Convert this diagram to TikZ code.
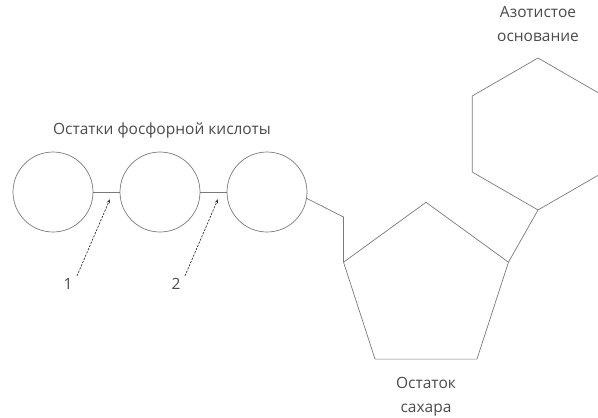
\documentclass[tikz,border=0pt]{standalone}
\usepackage{fontspec}
\setmainfont{Open Sans}
\usetikzlibrary{shapes.geometric,arrows.meta,positioning}

\definecolor{linegray}{HTML}{7A7A7A}
\definecolor{textgray}{HTML}{4A4A4A}

\begin{document}
\begin{tikzpicture}[x=1pt,y=-1pt,
    every node/.style={text=textgray,font=\fontsize{15.5}{24}\selectfont},
    bond/.style={draw=linegray,line width=0.7pt},
    phosphate/.style={circle,draw=linegray,line width=0.7pt,minimum size=80pt,inner sep=0pt,outer sep=0pt},
    ring/.style={regular polygon,draw=linegray,line width=0.7pt,inner sep=0pt,outer sep=0pt},
    pointer/.style={draw=black!80,line width=0.7pt,dash pattern=on 2.2pt off 1.3pt,-{Stealth[length=4.5pt,width=3.5pt]}}]
  \useasboundingbox (0,0) rectangle (598,418);
  \clip (0,0) rectangle (598,418);

  % phosphoric acid residues
  \node[phosphate] (p1) at (53,192) {};
  \node[phosphate] (p2) at (160,192) {};
  \node[phosphate] (p3) at (267,192) {};
  \node (ptitle) at (162,130) {Остатки фосфорной кислоты};
  \draw[bond] (p1.east) -- (p2.west);
  \draw[bond] (p2.east) -- (p3.west);

  % sugar residue
  \node[ring,regular polygon sides=5,minimum size=173.4pt] (sugar) at (426,289) {};
  \node[align=center] (stitle) at (426,397) {Остаток\\сахара};
  \coordinate (bend) at (343.5,217);
  \draw[bond] (p3.-9) -- (bend) -- (sugar.corner 2);

  % nitrogenous base
  \node[ring,regular polygon sides=6,shape border rotate=30,minimum size=152pt] (base) at (538,134) {};
  \node[align=center] (btitle) at (538,24) {Азотистое\\основание};
  \draw[bond] (sugar.corner 5) -- (base.-90);

  % bond labels
  \node (n1) at (68,284) {1};
  \node (n2) at (176,284) {2};
  \coordinate (tip1) at (110,199);
  \coordinate (tip2) at (218,199);
  \draw[pointer] ([xshift=1pt,yshift=-1pt]n1.north east) -- (tip1);
  \draw[pointer] ([xshift=1pt,yshift=-1pt]n2.north east) -- (tip2);
\end{tikzpicture}
\end{document}
